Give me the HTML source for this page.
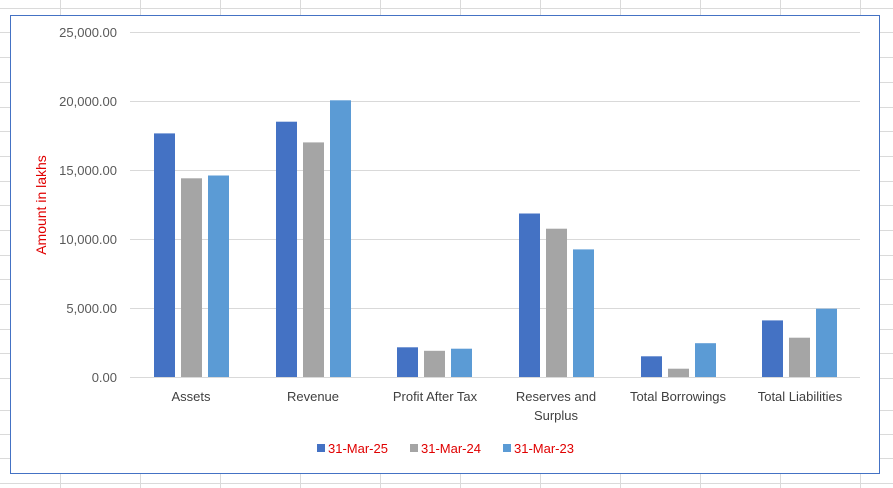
<!DOCTYPE html>
<html><head><style>
body{margin:0;background:#fff;}
svg{display:block;font-family:"Liberation Sans",Calibri,sans-serif;}
</style></head><body>
<svg width="893" height="488" xmlns="http://www.w3.org/2000/svg">
<g stroke="#dadada" stroke-width="1">
<line x1="60.5" y1="0" x2="60.5" y2="488"/><line x1="140.5" y1="0" x2="140.5" y2="488"/><line x1="220.5" y1="0" x2="220.5" y2="488"/><line x1="300.5" y1="0" x2="300.5" y2="488"/><line x1="380.5" y1="0" x2="380.5" y2="488"/><line x1="460.5" y1="0" x2="460.5" y2="488"/><line x1="540.5" y1="0" x2="540.5" y2="488"/><line x1="620.5" y1="0" x2="620.5" y2="488"/><line x1="700.5" y1="0" x2="700.5" y2="488"/><line x1="780.5" y1="0" x2="780.5" y2="488"/><line x1="860.5" y1="0" x2="860.5" y2="488"/>
<line x1="0" y1="8.5" x2="893" y2="8.5"/><line x1="0" y1="32.5" x2="893" y2="32.5"/><line x1="0" y1="57.5" x2="893" y2="57.5"/><line x1="0" y1="82.5" x2="893" y2="82.5"/><line x1="0" y1="107.5" x2="893" y2="107.5"/><line x1="0" y1="131.5" x2="893" y2="131.5"/><line x1="0" y1="156.5" x2="893" y2="156.5"/><line x1="0" y1="181.5" x2="893" y2="181.5"/><line x1="0" y1="205.5" x2="893" y2="205.5"/><line x1="0" y1="230.5" x2="893" y2="230.5"/><line x1="0" y1="255.5" x2="893" y2="255.5"/><line x1="0" y1="279.5" x2="893" y2="279.5"/><line x1="0" y1="304.5" x2="893" y2="304.5"/><line x1="0" y1="329.5" x2="893" y2="329.5"/><line x1="0" y1="353.5" x2="893" y2="353.5"/><line x1="0" y1="378.5" x2="893" y2="378.5"/><line x1="0" y1="410.5" x2="893" y2="410.5"/><line x1="0" y1="434.5" x2="893" y2="434.5"/><line x1="0" y1="458.5" x2="893" y2="458.5"/><line x1="0" y1="483.5" x2="893" y2="483.5"/>
</g>
<rect x="10.5" y="15.5" width="869" height="458" fill="#fff" stroke="#4472c4" stroke-width="1"/>
<g stroke="#d9d9d9" stroke-width="1">
<line x1="130" y1="32.5" x2="860" y2="32.5"/><line x1="130" y1="101.5" x2="860" y2="101.5"/><line x1="130" y1="170.5" x2="860" y2="170.5"/><line x1="130" y1="239.5" x2="860" y2="239.5"/><line x1="130" y1="308.5" x2="860" y2="308.5"/><line x1="130" y1="377.5" x2="860" y2="377.5"/>
</g>
<g font-size="13" fill="#595959" text-anchor="end">
<text x="117" y="37">25,000.00</text><text x="117" y="106">20,000.00</text><text x="117" y="175">15,000.00</text><text x="117" y="244">10,000.00</text><text x="117" y="313">5,000.00</text><text x="117" y="382">0.00</text>
</g>
<text transform="translate(46,205) rotate(-90)" font-size="14" fill="#e00000" text-anchor="middle">Amount in lakhs</text>
<g>
<rect x="154" y="133.4" width="21" height="243.6" fill="#4472c4"/><rect x="181" y="178.3" width="21" height="198.7" fill="#a5a5a5"/><rect x="208" y="175.5" width="21" height="201.5" fill="#5b9bd5"/>
<rect x="276" y="121.7" width="21" height="255.3" fill="#4472c4"/><rect x="303" y="142.4" width="21" height="234.6" fill="#a5a5a5"/><rect x="330" y="100.3" width="21" height="276.7" fill="#5b9bd5"/>
<rect x="397" y="347.3" width="21" height="29.7" fill="#4472c4"/><rect x="424" y="350.8" width="21" height="26.2" fill="#a5a5a5"/><rect x="451" y="348.7" width="21" height="28.3" fill="#5b9bd5"/>
<rect x="519" y="213.5" width="21" height="163.5" fill="#4472c4"/><rect x="546" y="228.7" width="21" height="148.3" fill="#a5a5a5"/><rect x="573" y="249.4" width="21" height="127.6" fill="#5b9bd5"/>
<rect x="641" y="356.3" width="21" height="20.7" fill="#4472c4"/><rect x="668" y="368.7" width="21" height="8.3" fill="#a5a5a5"/><rect x="695" y="343.2" width="21" height="33.8" fill="#5b9bd5"/>
<rect x="762" y="320.4" width="21" height="56.6" fill="#4472c4"/><rect x="789" y="337.7" width="21" height="39.3" fill="#a5a5a5"/><rect x="816" y="308.7" width="21" height="68.3" fill="#5b9bd5"/>
</g>
<g font-size="13" fill="#404040" text-anchor="middle">
<text x="191" y="401">Assets</text><text x="313" y="401">Revenue</text><text x="435" y="401">Profit After Tax</text><text x="556" y="401">Reserves and</text><text x="556" y="420">Surplus</text><text x="678" y="401">Total Borrowings</text><text x="800" y="401">Total Liabilities</text>
</g>
<g font-size="13" fill="#e00000">
<rect x="317" y="444" width="8" height="8" fill="#4472c4"/><text x="328" y="453">31-Mar-25</text>
<rect x="410" y="444" width="8" height="8" fill="#a5a5a5"/><text x="421" y="453">31-Mar-24</text>
<rect x="503" y="444" width="8" height="8" fill="#5b9bd5"/><text x="514" y="453">31-Mar-23</text>
</g>
</svg>
</body></html>
